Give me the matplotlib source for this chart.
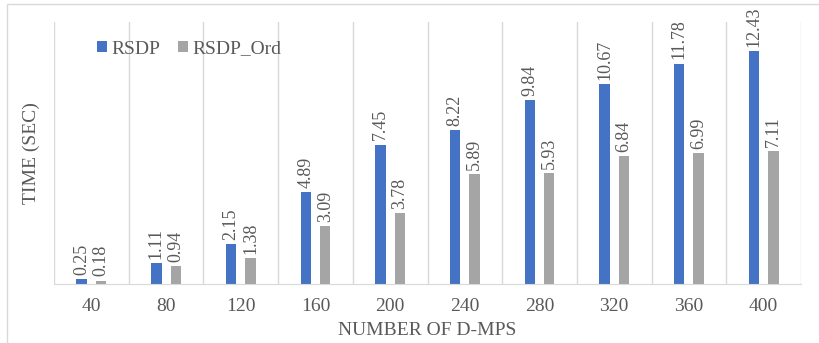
import matplotlib.pyplot as plt
import numpy as np
from matplotlib.patches import Rectangle

plt.rcParams["font.family"] = ["Liberation Serif", "DejaVu Serif"]

# Data
d_mps = ["40", "80", "120", "160", "200", "240", "280", "320", "360", "400"]
rsdp = [0.25, 1.11, 2.15, 4.89, 7.45, 8.22, 9.84, 10.67, 11.78, 12.43]
rsdp_ord = [0.18, 0.94, 1.38, 3.09, 3.78, 5.89, 5.93, 6.84, 6.99, 7.11]

blue = "#4472C4"
gray = "#A5A5A5"
text_c = "#595959"
grid_c = "#D9D9D9"

fig = plt.figure(figsize=(8.2, 3.43), dpi=100)
ax = fig.add_axes([0.0659, 0.172, 0.9109, 0.764])

x = np.arange(len(d_mps))
w = 0.14
off = 0.13

b1 = ax.bar(x - off, rsdp, w, color=blue, label="RSDP")
b2 = ax.bar(x + off, rsdp_ord, w, color=gray, label="RSDP_Ord")

for bars, vals in ((b1, rsdp), (b2, rsdp_ord)):
    for bar, v in zip(bars, vals):
        ax.annotate(f"{v:.2f}", (bar.get_x() + bar.get_width() / 2, v),
                    xytext=(0, 3), textcoords="offset points",
                    rotation=90, ha="center", va="bottom",
                    fontsize=13, color=text_c)

ax.set_xlim(-0.5, len(d_mps) - 0.5)
ax.set_ylim(0, 14)
ax.set_xticks(x)
ax.set_xticklabels(d_mps, fontsize=14, color=text_c)
ax.set_xticks(np.arange(-0.5, len(d_mps)), minor=True)
ax.tick_params(axis="x", which="both", length=0, pad=10)
ax.set_yticks([])
ax.grid(axis="x", which="minor", color=grid_c, linewidth=1)
ax.set_axisbelow(True)

for s in ("left", "right", "top"):
    ax.spines[s].set_visible(False)
ax.spines["bottom"].set_color(grid_c)

ax.set_xlabel("NUMBER OF D-MPS", fontsize=14, color=text_c, labelpad=5)
ax.set_ylabel("TIME (SEC)", fontsize=14, color=text_c, labelpad=10)

fig.legend(handles=[b1, b2], loc="center left",
           bbox_to_anchor=(97 / 820, 1 - 49 / 343), bbox_transform=fig.transFigure,
           ncol=2, frameon=False, borderpad=0, borderaxespad=0,
           fontsize=14, labelcolor=text_c, handlelength=0.5, handleheight=0.5,
           handletextpad=0.25, columnspacing=0.9)

# outer chart border (right edge runs off the image)
fig.patches.append(Rectangle((7 / 820, -0.01), 1.0, 1 - 4 / 343 + 0.01,
                             transform=fig.transFigure, fill=False,
                             edgecolor=grid_c, linewidth=1))

fig.savefig("out.png", dpi=100)
